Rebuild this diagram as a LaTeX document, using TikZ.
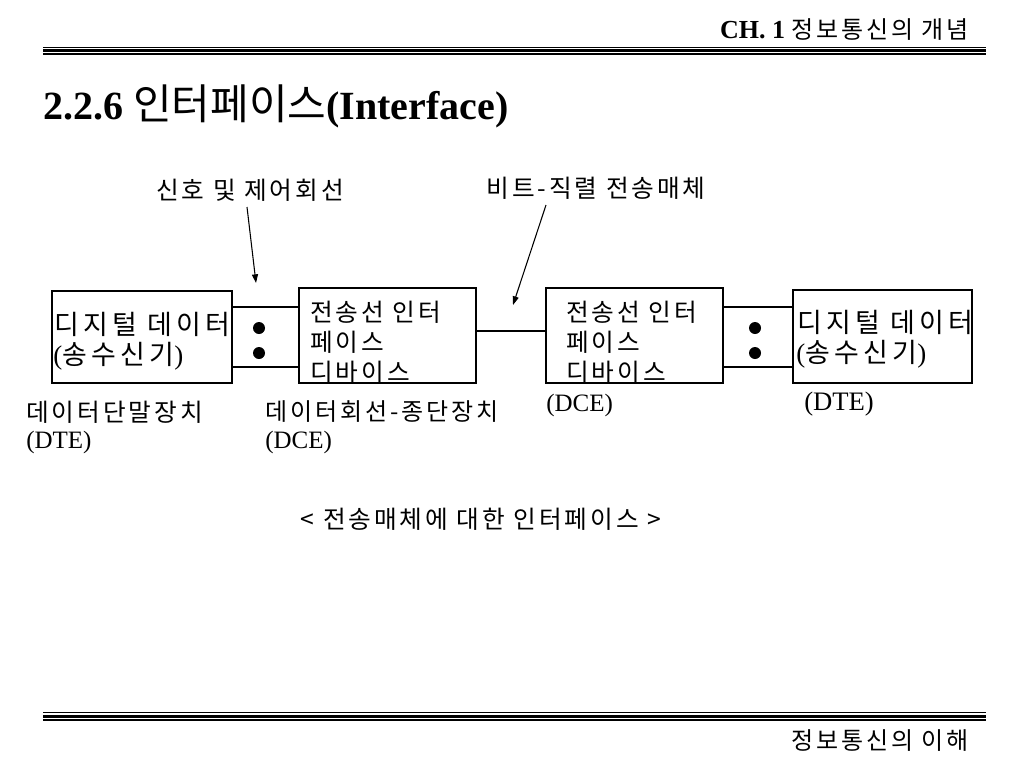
\documentclass[tikz,border=0pt]{standalone}
\usepackage{fontspec}
\setmainfont{Liberation Serif}
\newfontfamily\kr{Noto Sans CJK KR}
\newfontfamily\krA[LetterSpace=16]{Noto Sans CJK KR}
\newfontfamily\krB[LetterSpace=12]{Noto Sans CJK KR}
\newfontfamily\krH[LetterSpace=12]{Noto Sans CJK KR}
\newfontfamily\krF[LetterSpace=12]{Noto Sans CJK KR}
\usetikzlibrary{arrows.meta}
\tikzset{
  boxnode/.style={draw, line width=0.9pt, inner sep=0pt},
  wire/.style={line width=0.8pt},
  ptr/.style={line width=0.8pt, -{Triangle[length=6.5pt,width=4.5pt]}},
  txt/.style={inner sep=0pt, anchor=west},
  bigtxt/.style={txt, font=\krA\fontsize{20.2pt}{22pt}\selectfont},
  midtxt/.style={txt, font=\krB\fontsize{18.5pt}{20pt}\selectfont},
  lbl/.style={inner sep=0pt, font=\krB\fontsize{18.5pt}{20pt}\selectfont},
  serlbl/.style={txt, font=\fontsize{18.75pt}{20pt}\selectfont},
  dotnode/.style={circle, fill=black, inner sep=0pt, minimum size=9pt},
  rule/.style={line width=#1}
}
\begin{document}
\begin{tikzpicture}[x=0.75pt,y=-0.75pt]
\useasboundingbox (0,0) rectangle (1024,768);
\fill[white] (0,0) rectangle (1024,768);
% header
\node[inner sep=0pt, anchor=east] (hdr) at (969,30) {\fontsize{19.5pt}{21pt}\selectfont\bfseries CH. 1 {\krH\mdseries\fontsize{18pt}{20pt}\selectfont 정보통신의 개념}};
\draw[rule=0.8pt] (43,47.5) -- (986,47.5);
\draw[rule=2.3pt] (43,50.8) -- (986,50.8);
\draw[rule=0.8pt] (43,54) -- (986,54);
% title
\node[txt] (title) at (43,106) {\fontsize{30pt}{32pt}\selectfont\bfseries 2.2.6 {\kr\mdseries\fontsize{31.5pt}{33pt}\selectfont 인터페이스}(Interface)};
% boxes
\node[boxnode, minimum width=135pt, minimum height=69pt] (b1) at (142,337) {};
\node[boxnode, minimum width=132.75pt, minimum height=71.25pt] (b2) at (387.5,335.5) {};
\node[boxnode, minimum width=132.75pt, minimum height=71.25pt] (b3) at (634.5,335.5) {};
\node[boxnode, minimum width=134.25pt, minimum height=69.75pt] (b4) at (882.5,336.5) {};
% box texts
\node[bigtxt] (t1a) at (54,324) {디지털 데이터};
\node[bigtxt] (t1b) at (53,356) {{\rmfamily (}송수신기{\rmfamily )}};
\node[midtxt] (t2a) at (310,312) {전송선 인터};
\node[midtxt] (t2b) at (310,342) {페이스};
\node[midtxt] (t2c) at (310,372) {디바이스};
\node[midtxt] (t3a) at (566,312) {전송선 인터};
\node[midtxt] (t3b) at (566,342) {페이스};
\node[midtxt] (t3c) at (566,372) {디바이스};
\node[bigtxt] (t4a) at (797,322) {디지털 데이터};
\node[bigtxt] (t4b) at (796,354) {{\rmfamily (}송수신기{\rmfamily )}};
% connectors
\draw[wire] (b1.east |- 0,307) -- (b2.west |- 0,307);
\draw[wire] (b1.east |- 0,367) -- (b2.west |- 0,367);
\draw[wire] (b2.east |- 0,331) -- (b3.west |- 0,331);
\draw[wire] (b3.east |- 0,307) -- (b4.west |- 0,307);
\draw[wire] (b3.east |- 0,367) -- (b4.west |- 0,367);
\node[dotnode] (d1) at (259,328) {};
\node[dotnode] (d2) at (259,353) {};
\node[dotnode] (d3) at (755,328) {};
\node[dotnode] (d4) at (755,353) {};
% labels below
\node[midtxt] (l1) at (26,412) {데이터단말장치};
\node[serlbl] (l1b) at (26,442) {(DTE)};
\node[midtxt, font=\krB\fontsize{18pt}{20pt}\selectfont] (l2) at (265,412) {데이터회선-종단장치};
\node[serlbl] (l2b) at (265,442) {(DCE)};
\node[serlbl] (l3) at (546,405) {(DCE)};
\node[serlbl, font=\fontsize{20pt}{22pt}\selectfont] (l4) at (804,404) {(DTE)};
% pointer labels
\node[lbl] (p1) at (250,190) {신호 및 제어회선};
\node[lbl] (p2) at (596,188) {비트-직렬 전송매체};
\coordinate (p1s) at (247,207);
\coordinate (p1e) at (256,283);
\coordinate (p2s) at (546,205);
\coordinate (p2e) at (513,305);
\draw[ptr] (p1s) -- (p1e);
\draw[ptr] (p2s) -- (p2e);
% caption
\node[lbl] (cap) at (481,519) {< 전송매체에 대한 인터페이스 >};
% footer
\draw[rule=0.8pt] (43,712.5) -- (986,712.5);
\draw[rule=2.3pt] (43,716.3) -- (986,716.3);
\draw[rule=0.8pt] (43,720) -- (986,720);
\node[inner sep=0pt, anchor=east, font=\krF\fontsize{18pt}{20pt}\selectfont] (ftr) at (969,741) {정보통신의 이해};
\end{tikzpicture}
\end{document}
